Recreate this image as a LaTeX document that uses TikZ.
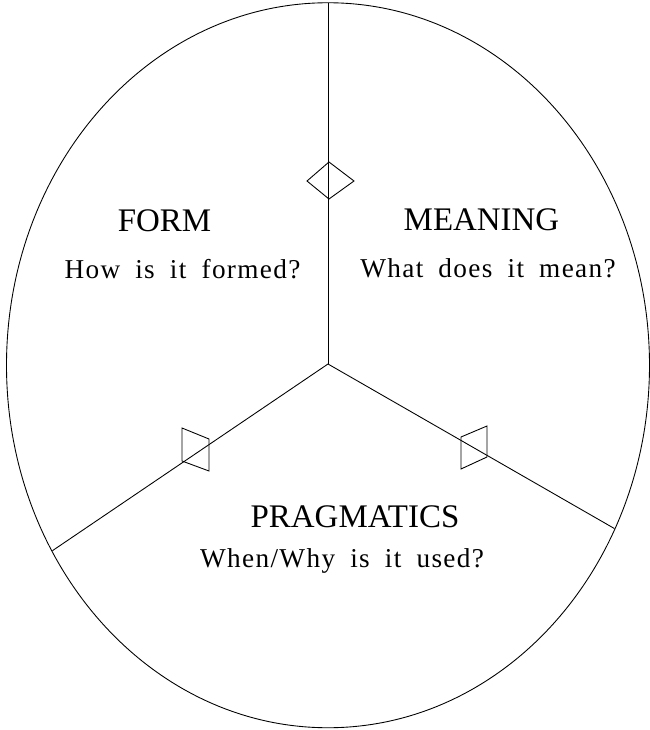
\documentclass[tikz,border=0pt]{standalone}
\usepackage{fontspec}
\setmainfont{Liberation Serif}
\newfontfamily\askfont[LetterSpace=5,WordSpace=1.85]{Liberation Serif}

\begin{document}
\begin{tikzpicture}[
  line width=1pt,
  aspect/.style={font=\fontsize{37.5}{40}\selectfont,anchor=base},
  question/.style={font=\askfont\fontsize{31}{34}\selectfont,anchor=base},
  marker/.style={draw,line width=1pt,line join=miter}
]
  \useasboundingbox (-13.12,-14.64) rectangle (12.88,14.56);
  \draw (0,-0.05) ellipse [x radius=12.86, y radius=14.5];

  % hub and spoke ends on the rim
  \coordinate (hub) at (0,0);
  \coordinate (rimtop) at (0,14.45);
  \coordinate (rimleft) at (211:12.86 and 14.5);
  \coordinate (rimright) at (333:12.86 and 14.5);
  \draw (hub) -- (rimtop);
  \draw (hub) -- (rimleft);
  \draw (hub) -- (rimright);

  % markers on the spokes
  \draw[marker] (0.04,8.08) -- (1.04,7.32) -- (0.04,6.6) -- (-0.84,7.32) -- cycle;
  \draw[marker] (-5.84,-2.56) -- (-4.76,-3.0) -- (-4.76,-4.28) -- (-5.84,-3.88) -- cycle;
  \draw[marker] (5.32,-2.92) -- (6.36,-2.48) -- (6.36,-3.72) -- (5.32,-4.2) -- cycle;

  \node[aspect] (form) at (-6.54,5.32) {FORM};
  \node[question] (formq) at (-5.82,3.44) {How is it formed?};
  \node[aspect] (meaning) at (6.14,5.36) {MEANING};
  \node[question] (meaningq) at (6.4,3.48) {What does it mean?};
  \node[aspect] (prag) at (1.08,-6.52) {PRAGMATICS};
  \node[question] (pragq) at (0.56,-8.12) {When/Why is it used?};
\end{tikzpicture}
\end{document}
